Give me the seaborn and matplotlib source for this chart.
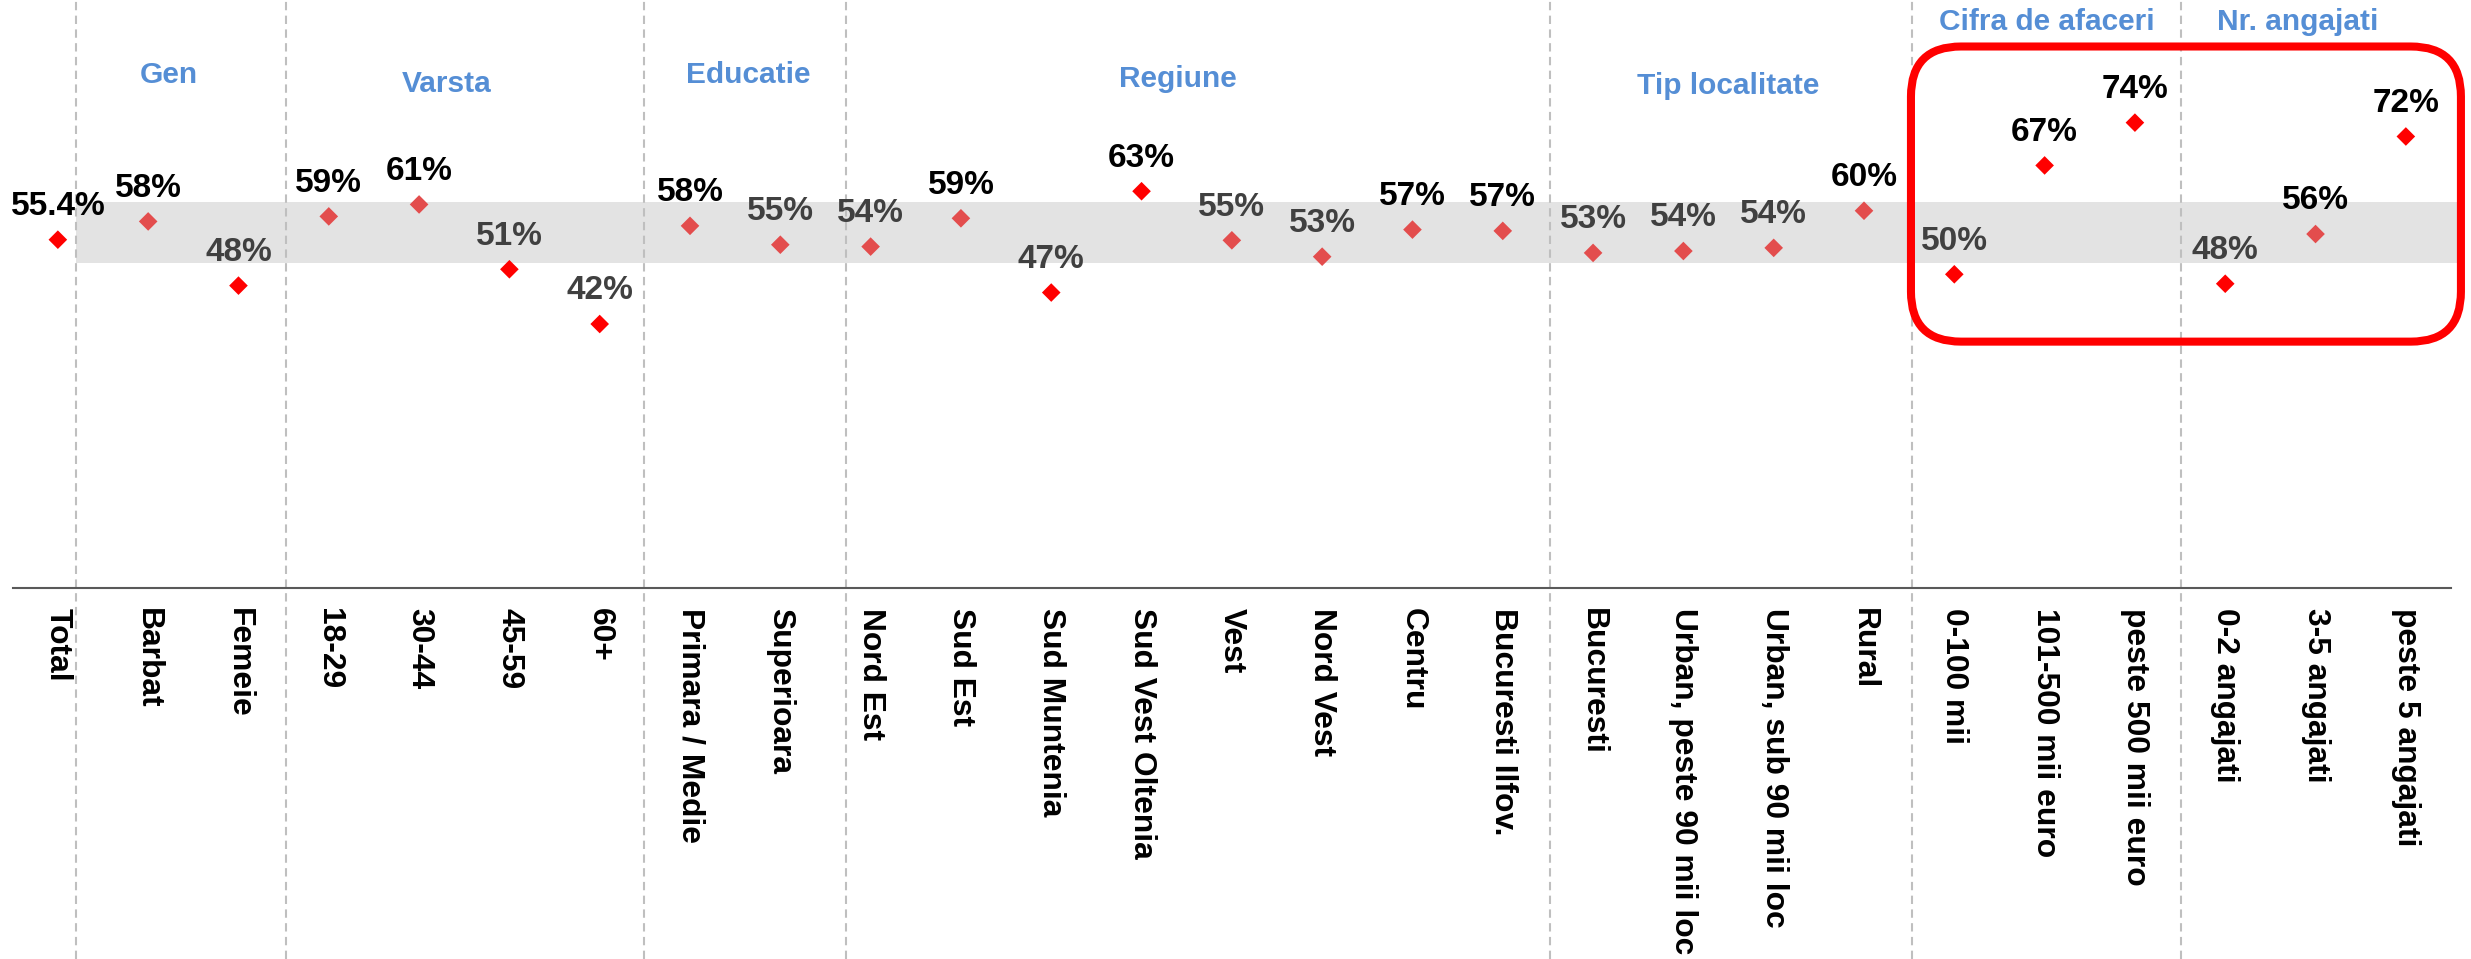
import numpy as np
import pandas as pd
import seaborn as sns
import matplotlib
matplotlib.use("Agg")
import matplotlib.pyplot as plt
from matplotlib.patches import FancyBboxPatch
from matplotlib.transforms import IdentityTransform

# ---------------- data ----------------
categories = ["Total", "Barbat", "Femeie", "18-29", "30-44", "45-59", "60+",
              "Primara / Medie", "Superioara", "Nord Est", "Sud Est", "Sud Muntenia",
              "Sud Vest Oltenia", "Vest", "Nord Vest", "Centru", "Bucuresti Ilfov.",
              "Bucuresti", "Urban, peste 90 mii loc", "Urban, sub 90 mii loc", "Rural",
              "0-100 mii", "101-500 mii euro", "peste 500 mii euro",
              "0-2 angajati", "3-5 angajati", "peste 5 angajati"]
values = [55.4, 58.3, 48.1, 59.1, 61.0, 50.7, 42.0,
          57.6, 54.6, 54.3, 58.8, 47.0,
          63.1, 55.3, 52.7, 57.0, 56.8,
          53.3, 53.6, 54.1, 60.0,
          49.9, 67.2, 74.0,
          48.4, 56.3, 71.8]
group_titles = ["Gen", "Varsta", "Educatie", "Regiune", "Tip localitate",
                "Cifra de afaceri", "Nr. angajati"]
band_low, band_high = 51.7, 61.4

# ---------------- layout / style ----------------
title_x = [1.23, 4.30, 7.64, 12.40, 18.50, 22.02, 24.80]
title_y = [80.3, 78.9, 80.3, 79.7, 78.5, 88.7, 88.7]
separators = [0.20, 2.53, 6.49, 8.73, 16.52, 20.53, 23.51]

sns.set_theme(style="white")
plt.rcParams["font.family"] = ["Liberation Sans", "DejaVu Sans"]
plt.rcParams["font.weight"] = "bold"

W, H, DPI = 2471, 959, 100
fig = plt.figure(figsize=(W / DPI, H / DPI), dpi=DPI)
axis_px = 588.3
ax = fig.add_axes([12.7 / W, (H - axis_px) / H, (2451 - 12.7) / W, axis_px / H])
ax.set_xlim(-0.5, len(categories) - 0.5)
ax.set_ylim(0, 93.49)

BRIGHT = "#ff0000"
LIGHT = "#e34d4d"
total = values[0]
df = pd.DataFrame({
    "pos": np.arange(len(categories)),
    "val": values,
    "cat": categories,
})
df["grp"] = ["bright" if (i == 0 or v < band_low or v > band_high) else "light"
             for i, v in enumerate(values)]

# grey band
ax.fill_between([0.20, 26.62], band_low, band_high, color="#e3e3e3",
                linewidth=0, zorder=0, clip_on=False)

# separators
frac_bottom = -(H - axis_px) / axis_px
for s in separators:
    ax.axvline(s, ymin=frac_bottom, ymax=1, color="#bfbfbf", lw=1.5,
               linestyle=(0, (4, 2.6)), clip_on=False, zorder=1)

# markers
sns.scatterplot(data=df, x="pos", y="val", hue="grp",
                palette={"bright": BRIGHT, "light": LIGHT},
                marker="D", s=90, linewidth=0, legend=False, ax=ax, zorder=3)

# value labels
for i, v in enumerate(values):
    txt = f"{v:.1f}%" if i == 0 else f"{v:.0f}%"
    col = "#000000" if v >= total else "#404040"
    ax.annotate(txt, (i, v), xytext=(0, 17.8), textcoords="offset points",
                ha="center", va="baseline", fontsize=24, fontweight="bold",
                color=col, zorder=4, annotation_clip=False)

# group titles
for t, x, y in zip(group_titles, title_x, title_y):
    ax.text(x, y, t, ha="center", va="baseline", fontsize=21.5,
            fontweight="bold", color="#558ed5", zorder=4)

# axes styling
for sp in ["left", "top", "right"]:
    ax.spines[sp].set_visible(False)
ax.spines["bottom"].set_color("#595959")
ax.spines["bottom"].set_linewidth(1.5)
ax.set_yticks([])
ax.set_xticks(np.arange(len(categories)))
ax.set_xticklabels(categories, rotation=270, fontsize=22.9, fontweight="bold",
                   ha="center", va="top", color="black")
ax.set_xticks(np.arange(len(categories) + 1) - 0.5, minor=True)
ax.tick_params(axis="x", which="major", length=0, pad=14)
ax.tick_params(axis="x", which="minor", length=6.5, width=1.3, color="#595959",
               direction="out")
ax.set_xlabel("")
ax.set_ylabel("")
ax.grid(False)

# red rounded highlight box around the last two groups
(x0, y0) = ax.transData.transform((20.52, 39.2))
(x1, y1) = ax.transData.transform((26.61, 86.1))
box = FancyBboxPatch((x0, y0), x1 - x0, y1 - y0,
                     boxstyle="round,pad=0,rounding_size=50",
                     transform=IdentityTransform(), fill=False,
                     edgecolor="#ff0000", linewidth=5.8, zorder=5)
fig.add_artist(box)

fig.savefig("out.png", dpi=DPI)
